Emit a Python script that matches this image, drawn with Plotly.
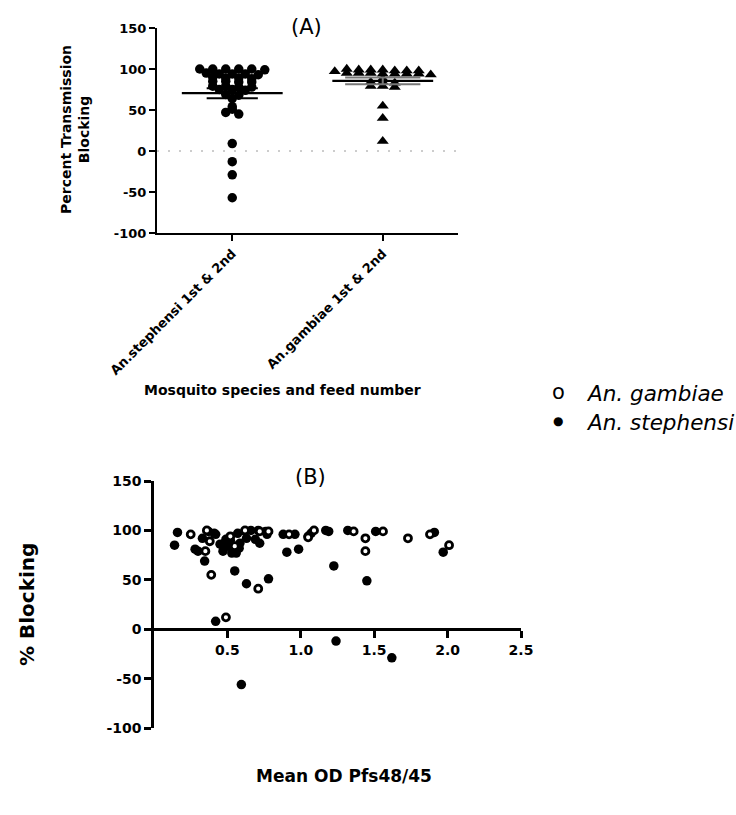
import math
import plotly.graph_objects as go

# ---------------- data ----------------
categories_A = ["An.stephensi 1st & 2nd", "An.gambiae 1st & 2nd"]
stephensi_A = [100, 100, 100, 100, 100, 99,
               94, 95, 94, 93, 94,
               89, 90, 88, 89,
               85, 84, 84, 85,
               79, 78, 78, 79,
               75, 75, 74,
               68, 69, 64,
               54, 51, 47, 45,
               9, -13, -29, -57]
gambiae_A = [99, 98, 100, 98, 99, 99, 98, 97,
             95, 94, 95, 94, 93, 95, 94, 94,
             88, 84, 84, 83, 79, 79, 78,
             55, 40, 12]

stephensi_B_od = [0.16, 0.14, 0.37, 0.28, 0.30, 0.345, 0.33, 0.41, 0.42, 0.45,
                  0.47, 0.49, 0.50, 0.52, 0.53, 0.56, 0.57, 0.585, 0.58, 0.62,
                  0.63, 0.66, 0.69, 0.71, 0.72, 0.76, 0.77, 0.88, 0.905, 0.96,
                  0.985, 1.05, 1.07, 1.17, 1.19, 1.32, 1.51, 1.91, 1.97,
                  0.55, 0.63, 0.78, 1.225, 1.45, 0.42, 0.595, 1.24, 1.62]
stephensi_B_blk = [98, 85, 99, 81, 79, 69, 92, 97, 96, 86,
                   79, 91, 84, 90, 77, 77, 97, 87, 82, 99,
                   92, 100, 91, 100, 87, 99, 96, 96, 78, 96,
                   81, 94, 97, 100, 99, 100, 99, 98, 78,
                   59, 46, 51, 64, 49, 8, -56, -12, -29]
gambiae_B_od = [0.25, 0.38, 0.35, 0.39, 0.36, 0.49, 0.52, 0.55, 0.62, 0.71,
                0.72, 0.78, 0.92, 1.05, 1.09, 1.36, 1.44, 1.44, 1.56, 1.73,
                1.88, 2.01]
gambiae_B_blk = [96, 89, 79, 55, 100, 12, 94, 84, 100, 41,
                 99, 99, 96, 93, 100, 99, 92, 79, 99, 92,
                 96, 85]

yticks = [-100, -50, 0, 50, 100, 150]
xticks_B = [0.5, 1.0, 1.5, 2.0, 2.5]

# ---------------- layout constants ----------------
W, H = 736, 815
FONT = "DejaVu Sans"

def px2x(p):
    return p / W

def px2y(p):
    return 1 - p / H

A_x = (157, 458)
A_y = (233, 28)      # bottom, top pixel
B_x = (154, 521)
B_y = (728, 481)
A_xrange = [-0.5, 1.5]
yrange = [-100, 150]
B_xrange = [0, 2.5]

sx_A = (A_x[1] - A_x[0]) / (A_xrange[1] - A_xrange[0])


def binned_swarm(values, bin_units, spacing_px):
    """Prism-style scatter: values binned into rows, points spread evenly per row."""
    xs = [0.0] * len(values)
    bins = {}
    for i in sorted(range(len(values)), key=lambda i: -values[i]):
        bins.setdefault(round(values[i] / bin_units), []).append(i)
    for idxs in bins.values():
        m = len(idxs)
        for j, i in enumerate(idxs):
            xs[i] = (j - (m - 1) / 2) * spacing_px
    return xs


def mean_sem(v):
    n = len(v)
    m = sum(v) / n
    sd = math.sqrt(sum((a - m) ** 2 for a in v) / (n - 1))
    return m, sd / math.sqrt(n)


fig = go.Figure()

# ---------------- panel A ----------------
fig.add_trace(go.Scatter(x=A_xrange, y=[0, 0], mode="lines", xaxis="x", yaxis="y",
                         line=dict(color="#9a9a9a", width=1, dash="2px,9px"),
                         hoverinfo="skip", showlegend=False))

groups = [(stephensi_A, "circle", 9.5, 0, 0.335, 0.17, "black", 13.0),
          (gambiae_A, "triangle-up", 10.5, 1, 0.335, 0.25, "#777777", 12.0)]
for vals, sym, size, xc, mw, sw, semcol, spacing in groups:
    offs = binned_swarm(vals, 5, spacing)
    fig.add_trace(go.Scatter(
        x=[xc + o / sx_A for o in offs], y=vals, mode="markers",
        xaxis="x", yaxis="y",
        marker=dict(symbol=sym, size=size, color="black", line=dict(width=0)),
        showlegend=False))
    m, se = mean_sem(vals)
    fig.add_trace(go.Scatter(x=[xc - mw, xc + mw], y=[m, m], mode="lines",
                             xaxis="x", yaxis="y", line=dict(color="black", width=2.2),
                             showlegend=False, hoverinfo="skip"))
    for yy in (m - se, m + se):
        fig.add_trace(go.Scatter(x=[xc - sw, xc + sw], y=[yy, yy], mode="lines",
                                 xaxis="x", yaxis="y", line=dict(color=semcol, width=2),
                                 showlegend=False, hoverinfo="skip"))
    fig.add_trace(go.Scatter(x=[xc, xc], y=[m - se, m + se], mode="lines",
                             xaxis="x", yaxis="y", line=dict(color=semcol, width=2),
                             showlegend=False, hoverinfo="skip"))

# ---------------- panel B ----------------
fig.add_trace(go.Scatter(x=stephensi_B_od, y=stephensi_B_blk, mode="markers",
                         xaxis="x2", yaxis="y2", name="An. stephensi",
                         marker=dict(symbol="circle", size=9.5, color="black",
                                     line=dict(width=0)),
                         showlegend=False))
fig.add_trace(go.Scatter(x=gambiae_B_od, y=gambiae_B_blk, mode="markers",
                         xaxis="x2", yaxis="y2", name="An. gambiae",
                         marker=dict(symbol="circle", size=7, color="white",
                                     line=dict(width=2.8, color="black")),
                         showlegend=False))

yB0, yB1 = px2y(B_y[0]), px2y(B_y[1])
zero_pos = yB0 + (0 - yrange[0]) / (yrange[1] - yrange[0]) * (yB1 - yB0)

tickfontA = dict(family=FONT, size=13, color="black", weight="bold")
tickfontB = dict(family=FONT, size=14, color="black", weight="bold")

fig.update_layout(
    width=W, height=H, margin=dict(l=0, r=0, t=0, b=0, autoexpand=False),
    paper_bgcolor="white", plot_bgcolor="rgba(0,0,0,0)",
    showlegend=False,
    xaxis=dict(domain=[px2x(A_x[0]), px2x(A_x[1])], range=A_xrange,
               tickvals=[0, 1], ticktext=categories_A, tickangle=-45,
               tickfont=dict(family=FONT, size=13, color="black", weight="bold"),
               showline=True, linecolor="black", linewidth=2, ticks="outside",
               ticklen=6, tickwidth=2, tickcolor="black", showgrid=False,
               zeroline=False, anchor="y", automargin=False),
    yaxis=dict(domain=[px2y(A_y[0]), px2y(A_y[1])], range=yrange,
               tickvals=yticks, ticktext=[str(t) for t in yticks],
               tickfont=tickfontA, showline=True, linecolor="black", linewidth=2,
               ticks="outside", ticklen=6, tickwidth=2, tickcolor="black",
               showgrid=False, zeroline=False, anchor="x", automargin=False),
    xaxis2=dict(domain=[px2x(B_x[0]), px2x(B_x[1])], range=B_xrange,
                tickvals=xticks_B, ticktext=[f"{t:.1f}" for t in xticks_B],
                tickfont=tickfontB, anchor="free", position=zero_pos,
                showline=True, linecolor="black", linewidth=2.5, ticks="outside",
                ticklen=7, tickwidth=2.5, tickcolor="black", showgrid=False,
                zeroline=False, automargin=False),
    yaxis2=dict(domain=[yB0, yB1], range=yrange,
                tickvals=yticks, ticktext=[str(t) for t in yticks],
                tickfont=tickfontB, showline=True, linecolor="black", linewidth=2.5,
                ticks="outside", ticklen=7, tickwidth=2.5, tickcolor="black",
                showgrid=False, zeroline=False, anchor="x2", automargin=False),
)

def ann(text, xpx, ypx, size, bold=False, angle=0, xanchor="center", italic=False):
    fig.add_annotation(text=text, x=px2x(xpx), y=px2y(ypx), xref="paper", yref="paper",
                       showarrow=False, textangle=angle, xanchor=xanchor, yanchor="middle",
                       font=dict(family=FONT, size=size, color="black",
                                 weight="bold" if bold else "normal",
                                 style="italic" if italic else "normal"))

ann("(A)", 306, 27, 21)
ann("(B)", 310, 477, 21)
ann("Percent Transmission<br>Blocking", 75, 130, 14, bold=True, angle=-90)
ann("Mosquito species and feed number", 282, 390, 14, bold=True)
ann("% Blocking", 27, 605, 20, bold=True, angle=-90)
ann("Mean OD Pfs48/45", 344, 776, 17, bold=True)
ann("o", 558, 392, 21)
ann("An. gambiae", 584, 393, 21.5, xanchor="left", italic=True)
ann("●", 558, 421, 12)
ann("An. stephensi", 584, 422, 21.5, xanchor="left", italic=True)

fig.write_html("out.html",
               config={"displayModeBar": False},
               post_script="document.body.style.margin='0px';")
